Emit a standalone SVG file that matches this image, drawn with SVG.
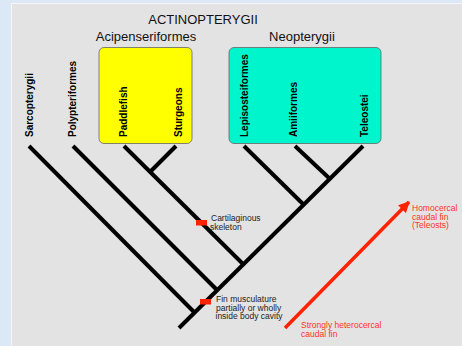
<svg xmlns="http://www.w3.org/2000/svg" width="462" height="346" viewBox="0 0 462 346">
<style>
.title{font-family:"Liberation Sans",Arial,sans-serif;font-size:13px;fill:#111}
.vl{font-family:"Liberation Sans",Arial,sans-serif;font-size:10px;font-weight:bold;fill:#000}
.note{font-family:"Liberation Sans",Arial,sans-serif;font-size:8.5px;fill:#222}
.red{font-family:"Liberation Sans",Arial,sans-serif;font-size:8.5px;fill:#ff3322}
.br{stroke:#000;stroke-width:4;fill:none}
.box{stroke:#666;stroke-width:0.8}
.mk{fill:#ff2200}
</style>
<defs>
<marker id="ah" viewBox="0 0 10 10" refX="9" refY="5" markerWidth="3.2" markerHeight="3.2" orient="auto" markerUnits="strokeWidth">
<path d="M0,0 L10,5 L0,10 Z" fill="#ff2200"/>
</marker>
</defs>
<rect x="0" y="0" width="462" height="346" fill="#dce8f6"/>
<rect x="11.5" y="3.5" width="452" height="344" fill="#e3e3e3" stroke="#f4f6fa" stroke-width="1"/>
<text class="title" x="203" y="24" text-anchor="middle">ACTINOPTERYGII</text>
<text class="title" x="146" y="41" text-anchor="middle">Acipenseriformes</text>
<text class="title" x="302" y="41" text-anchor="middle">Neopterygii</text>
<g id="acipenseriformes">
<rect class="box" x="99" y="47.5" width="93" height="96" rx="5" fill="#ffff00"/>
</g>
<g id="neopterygii">
<rect class="box" x="229" y="47.5" width="152" height="96" rx="5" fill="#00f5cc"/>
</g>
<g id="sarcopterygii"><text class="vl" transform="translate(32.5,137) rotate(-90)">Sarcopterygii</text></g>
<g id="polypteriformes"><text class="vl" transform="translate(76,137) rotate(-90)">Polypteriformes</text></g>
<g id="paddlefish"><text class="vl" transform="translate(127,137) rotate(-90)">Paddlefish</text></g>
<g id="sturgeons"><text class="vl" transform="translate(182,137) rotate(-90)">Sturgeons</text></g>
<g id="lepisosteiformes"><text class="vl" transform="translate(248,137) rotate(-90)">Lepisosteiformes</text></g>
<g id="amiiformes"><text class="vl" transform="translate(297,137) rotate(-90)">Amiiformes</text></g>
<g id="teleostei"><text class="vl" transform="translate(368,137) rotate(-90)">Teleostei</text></g>
<g id="connectors">
<line class="br" x1="179" y1="328" x2="363" y2="146"/>
<line class="br" x1="29" y1="146" x2="195" y2="313"/>
<line class="br" x1="73" y1="146" x2="218" y2="291"/>
<line class="br" x1="124" y1="146" x2="244" y2="265"/>
<line class="br" x1="176" y1="146" x2="149" y2="173"/>
<line class="br" x1="244" y1="146" x2="304" y2="205"/>
<line class="br" x1="295" y1="146" x2="330" y2="179"/>
<line stroke="#ff2200" stroke-width="3.5" x1="285" y1="328" x2="409" y2="202" marker-end="url(#ah)"/>
</g>
<g id="cartilaginous">
<rect class="mk" x="196" y="220" width="11" height="5.5"/>
<text class="note" x="211" y="221">Cartilaginous</text>
<text class="note" x="210" y="229.5">skeleton</text>
</g>
<g id="fin-musculature">
<rect class="mk" x="200" y="299" width="11" height="5.5"/>
<text class="note" x="216" y="302">Fin musculature</text>
<text class="note" x="216" y="310.5">partially or wholly</text>
<text class="note" x="215.5" y="319">inside body cavity</text>
</g>
<g id="homocercal">
<text class="red" x="412" y="211">Homocercal</text>
<text class="red" x="412" y="219.5">caudal fin</text>
<text class="red" x="412" y="228">(Teleosts)</text>
</g>
<g id="heterocercal">
<text class="red" x="301" y="328">Strongly heterocercal</text>
<text class="red" x="301" y="336.5">caudal fin</text>
</g>
</svg>
